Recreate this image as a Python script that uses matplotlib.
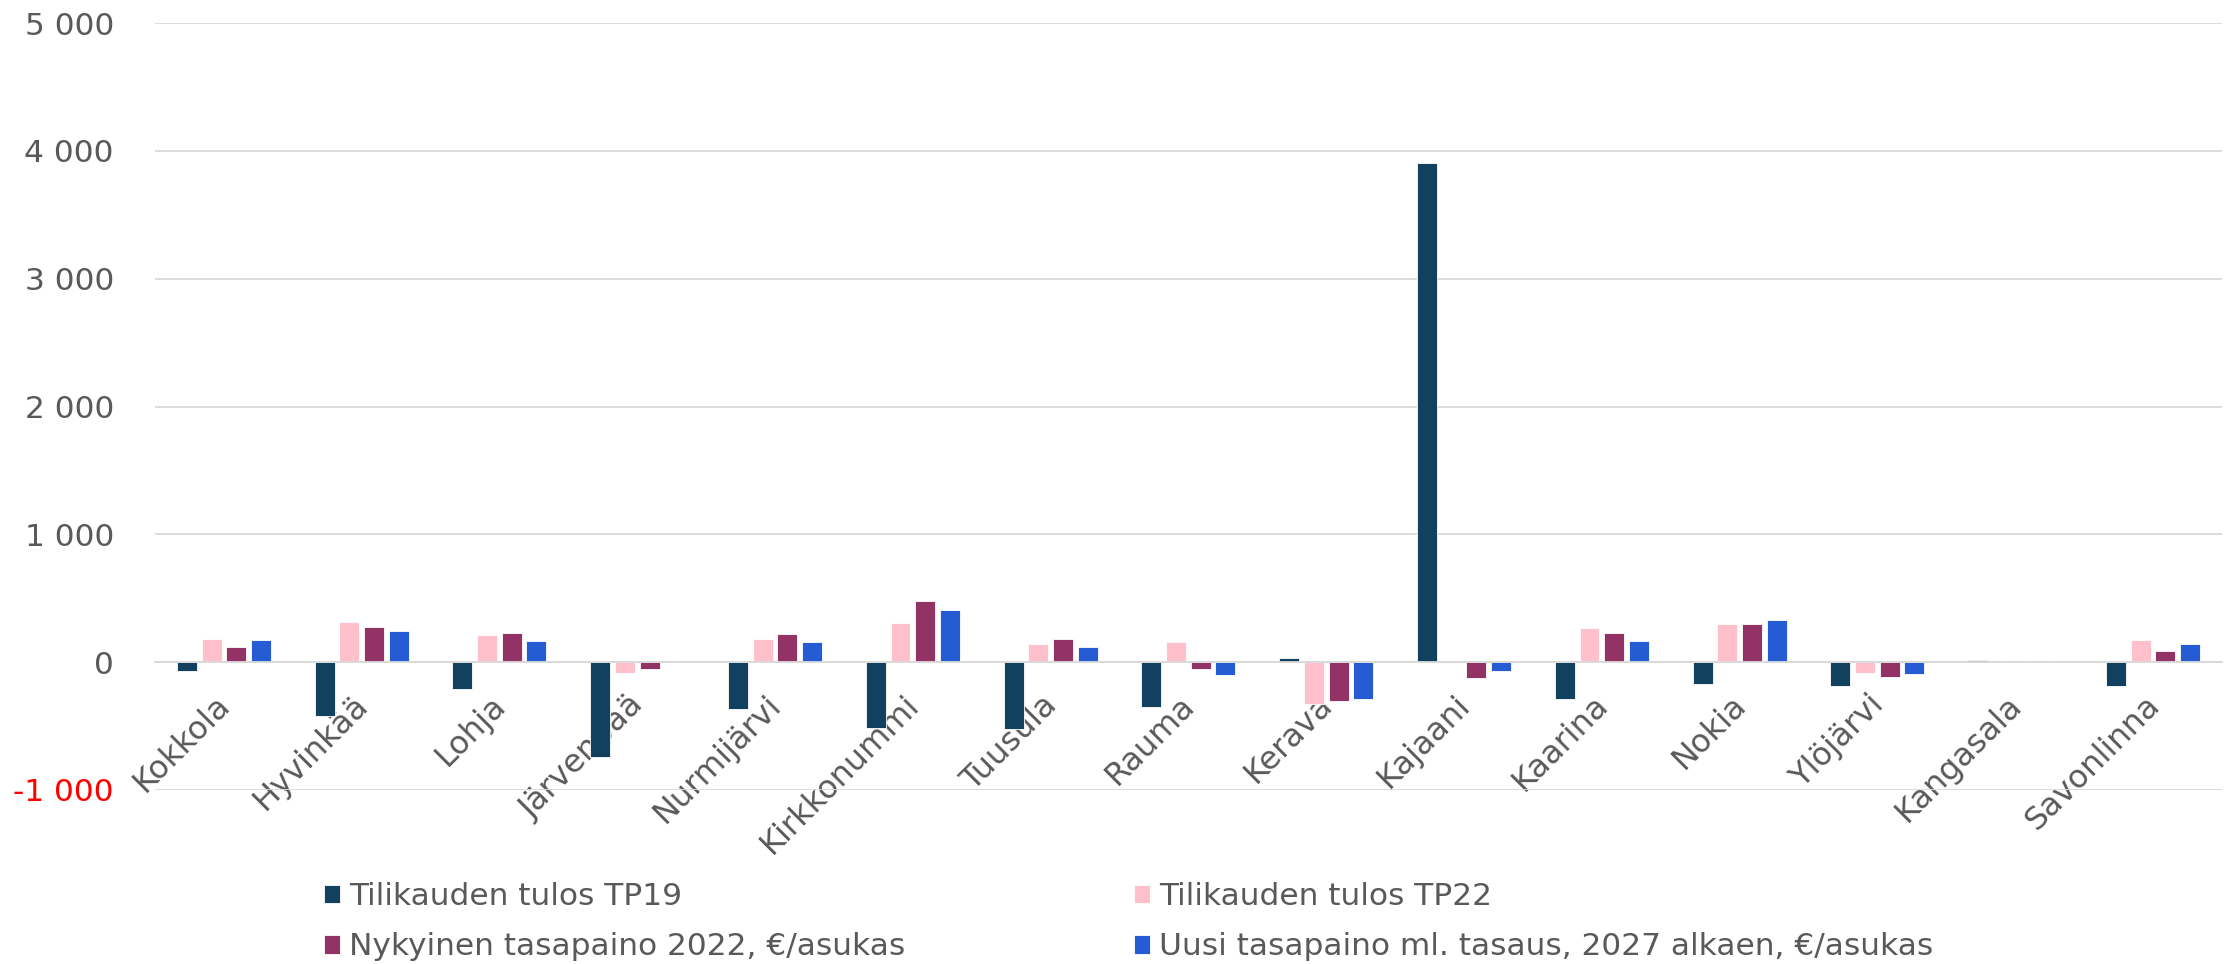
import matplotlib.pyplot as plt
import matplotlib.transforms as mtransforms
import numpy as np

plt.rcParams['font.family'] = ['DejaVu Sans']
plt.rcParams['axes.unicode_minus'] = False

# kunnat ja sarjat, €/asukas
kunnat = ["Kokkola", "Hyvinkää", "Lohja", "Järvenpää", "Nurmijärvi", "Kirkkonummi",
          "Tuusula", "Rauma", "Kerava", "Kajaani", "Kaarina", "Nokia", "Ylöjärvi",
          "Kangasala", "Savonlinna"]
tp19 = [-70, -420, -208, -742, -370, -513, -520, -354, 34, 3902, -286, -172, -185, 15, -185]
tp22 = [180, 312, 214, -88, 185, 310, 146, 156, -330, -5, 271, 295, -88, 0, 170]
nyk = [115, 273, 227, -55, 224, 480, 183, -55, -302, -120, 232, 295, -117, 0, 86]
uusi = [170, 240, 162, 0, 156, 412, 115, -98, -289, -68, 164, 328, -96, 0, 141]

sarjat = ["Tilikauden tulos TP19", "Tilikauden tulos TP22",
          "Nykyinen tasapaino 2022, €/asukas",
          "Uusi tasapaino ml. tasaus, 2027 alkaen, €/asukas"]
varit = ["#12405F", "#FFC0CB", "#933265", "#255CD4"]
y_ticks = [-1000, 0, 1000, 2000, 3000, 4000, 5000]

harmaa = "#595959"
fs = 22.5

fig = plt.figure(figsize=(22.36, 9.64), dpi=100)
ax = fig.add_axes([0.0693, 0.1805, 0.9244, 0.7956])

x = np.arange(len(kunnat))
vali = 0.179
leveys = 0.145
palkit = []
for i, (arvot, nimi, vari) in enumerate(zip([tp19, tp22, nyk, uusi], sarjat, varit)):
    b = ax.bar(x + (i - 1.5) * vali, arvot, leveys, color=vari, label=nimi,
               edgecolor="white", linewidth=0.6, zorder=3)
    palkit.append(b)

ax.set_xlim(-0.5, len(kunnat) - 0.5)
ax.set_ylim(-1000, 5000)
ax.set_yticks(y_ticks)
ax.set_yticklabels([f"{v:,.0f}".replace(",", " ") for v in y_ticks])
for lbl, v in zip(ax.get_yticklabels(), y_ticks):
    lbl.set_color("red" if v < 0 else harmaa)
ax.tick_params(axis="y", length=0, pad=29.5, labelsize=fs)
ax.grid(axis="y", color="#D9D9D9", linewidth=1.3, zorder=0)

# x-akseli nollan kohdalle, nimet vinoon
for s in ["left", "right", "top"]:
    ax.spines[s].set_visible(False)
ax.spines["bottom"].set_position(("data", 0))
ax.spines["bottom"].set_color("#D9D9D9")
ax.spines["bottom"].set_linewidth(1.3)
ax.spines["bottom"].set_zorder(4)
ax.set_xticks(x)
ax.set_xticklabels(kunnat)
ax.tick_params(axis="x", length=0, pad=27.5, labelsize=23, colors=harmaa)
siirto = mtransforms.ScaledTranslation(2 / 100, 0, fig.dpi_scale_trans)
for lbl in ax.get_xticklabels():
    lbl.set_rotation(45)
    lbl.set_ha("right")
    lbl.set_va("center")
    lbl.set_rotation_mode("anchor")
    lbl.set_transform(lbl.get_transform() + siirto)

# selite kahteen sarakkeeseen
leg_kw = dict(frameon=False, fontsize=fs, labelcolor=harmaa, loc="upper left",
              handlelength=0.5, handleheight=0.55, handletextpad=0.3,
              labelspacing=0.68, borderaxespad=0, borderpad=0)
leg1 = fig.legend([palkit[0], palkit[2]], [sarjat[0], sarjat[2]],
                  bbox_to_anchor=(324 / 2236, 1 - 882 / 964), **leg_kw)
leg2 = fig.legend([palkit[1], palkit[3]], [sarjat[1], sarjat[3]],
                  bbox_to_anchor=(1134 / 2236, 1 - 882 / 964), **leg_kw)

plt.savefig("out.png", dpi=100)
